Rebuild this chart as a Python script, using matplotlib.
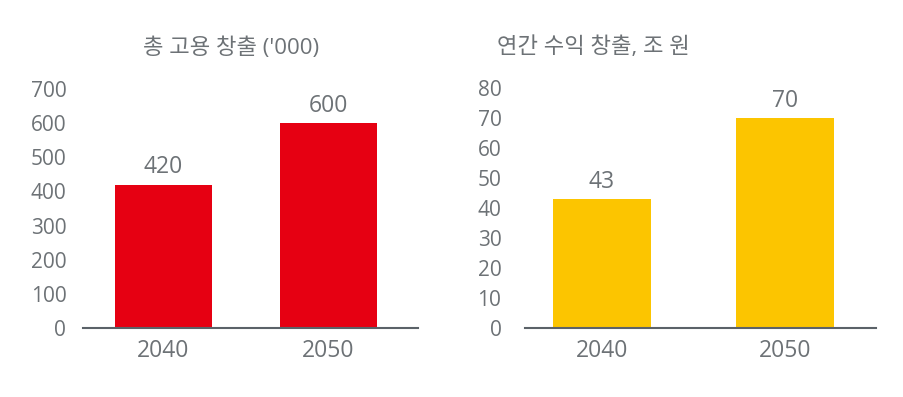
import matplotlib
matplotlib.use('Agg')
import matplotlib.pyplot as plt

plt.rcParams['font.family'] = ['Open Sans', 'Noto Sans CJK KR', 'DejaVu Sans']

years = ['2040', '2050']
jobs = [420, 600]
revenue = [43, 70]
titles = ["총 고용 창출 ('000)", '연간 수익 창출, 조 원']

text_col = '#6d7276'
axis_col = '#5b6268'
red = '#e60012'
yellow = '#fcc500'

fig = plt.figure(figsize=(9.04, 3.97), dpi=100)
ax1 = fig.add_axes([0.0918, 0.1738, 0.3706, 0.602])
ax2 = fig.add_axes([0.5808, 0.1738, 0.3883, 0.604])


def draw(ax, vals, color, ymax, step, width, xlim, title, title_x, ypad):
    x = range(len(vals))
    bars = ax.bar(x, vals, width=width, color=color)
    ax.bar_label(bars, labels=[str(v) for v in vals], padding=4,
                 fontsize=16.5, color=text_col)
    ax.set_ylim(0, ymax)
    ax.set_xlim(*xlim)
    ax.set_yticks(range(0, ymax + 1, step))
    ax.set_xticks(list(x))
    ax.set_xticklabels(years)
    for s in ['top', 'right', 'left']:
        ax.spines[s].set_visible(False)
    ax.spines['bottom'].set_color(axis_col)
    ax.spines['bottom'].set_linewidth(1.5)
    ax.tick_params(axis='y', length=0, pad=ypad, labelsize=15, labelcolor=text_col)
    ax.tick_params(axis='x', length=0, pad=8, labelsize=16.5, labelcolor=text_col)
    ax.text(title_x, 1.17, title, transform=ax.transAxes, ha='left', va='center',
            fontsize=16, color=text_col)


draw(ax1, jobs, red, 700, 100, 0.59, (-0.488, 1.542), titles[0], 0.179, 12)
draw(ax2, revenue, yellow, 80, 10, 0.537, (-0.42, 1.50), titles[1], -0.08, 17)

fig.savefig('out.png', dpi=100)
